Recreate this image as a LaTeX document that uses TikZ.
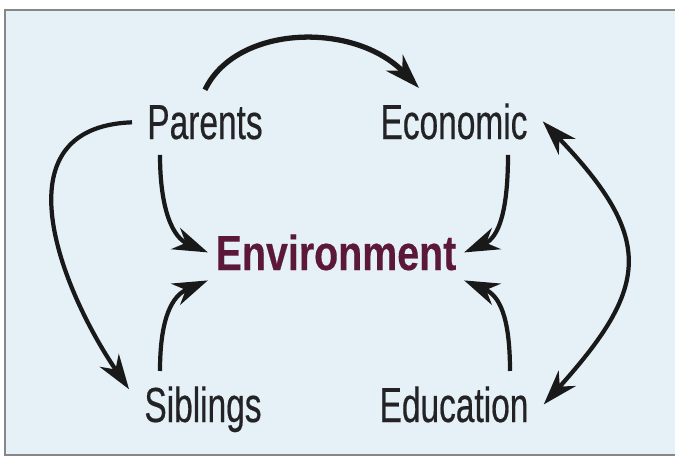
\documentclass[tikz,border=0pt]{standalone}
\usepackage{fontspec}
\usepackage{tikz}
\usetikzlibrary{arrows.meta}

\newfontfamily\labelfont{Liberation Sans}[FakeStretch=0.68, FakeBold=0.4]
\newfontfamily\envfont{Liberation Sans}[FakeStretch=0.8, FakeBold=0.3]

\definecolor{paleblue}{RGB}{229,241,247}
\definecolor{envred}{RGB}{92,24,58}
\definecolor{labelgrey}{RGB}{35,35,38}
\definecolor{framegrey}{RGB}{135,135,135}

\begin{document}
\begin{tikzpicture}[
    >={Stealth[length=0.7cm, width=0.46cm, inset=0.22cm]},
    factor/.style={anchor=base, inner sep=0.3cm, text=labelgrey,
        font=\labelfont\fontsize{28}{32}\selectfont},
    link/.style={line width=2.4pt, draw=black!90},
  ]
  \useasboundingbox (0, 0) rectangle (13.5, -9.18);
  \fill[white] (0, 0) rectangle (13.5, -9.18);
  \draw[framegrey, line width=1.2pt, fill=paleblue] (0.1, -0.2) rectangle (13.7, -9.1);

  \node[factor] (parents) at (4.1, -2.78) {Parents};
  \node[factor] (economic) at (9.08, -2.78) {Economic};
  \node[factor] (siblings) at (4.06, -8.44) {Siblings};
  \node[factor] (education) at (9.08, -8.44) {Education};
  \node[factor, inner xsep=0.15cm, text=envred,
      font=\envfont\bfseries\fontsize{28}{32}\selectfont] (environment) at (6.72, -5.4) {Environment};

  % outer loops
  \draw [link, ->, line width=3pt] (parents.north) .. controls +(0.62, 1.3) and +(-1.3, 1.34) .. ([xshift=-0.7cm]economic.north);
  \draw [link, ->] (parents.west) .. controls +(-2.74, -0.1) and +(-1.34, 1.96) .. ([yshift=0.4cm]siblings.west);
  \draw [link, <->] (economic.east) .. controls +(2.26, -2.36) and +(2.1, 2.34) .. (education.east);

  % into the centre
  \draw [link, ->] ([xshift=-0.9cm]parents.south) .. controls +(0, -1.1) and +(-0.7, 0.3) .. (environment.west);
  \draw [link, ->] ([xshift=-0.86cm]siblings.north) .. controls +(0, 1.1) and +(-0.7, -0.3) .. ([yshift=-0.56cm]environment.west);
  \draw [link, ->] ([xshift=1.08cm]economic.south) .. controls +(0, -1.1) and +(0.7, 0.3) .. (environment.east);
  \draw [link, ->] ([xshift=1.12cm]education.north) .. controls +(0, 1.1) and +(0.7, -0.3) .. ([yshift=-0.56cm]environment.east);
\end{tikzpicture}
\end{document}
